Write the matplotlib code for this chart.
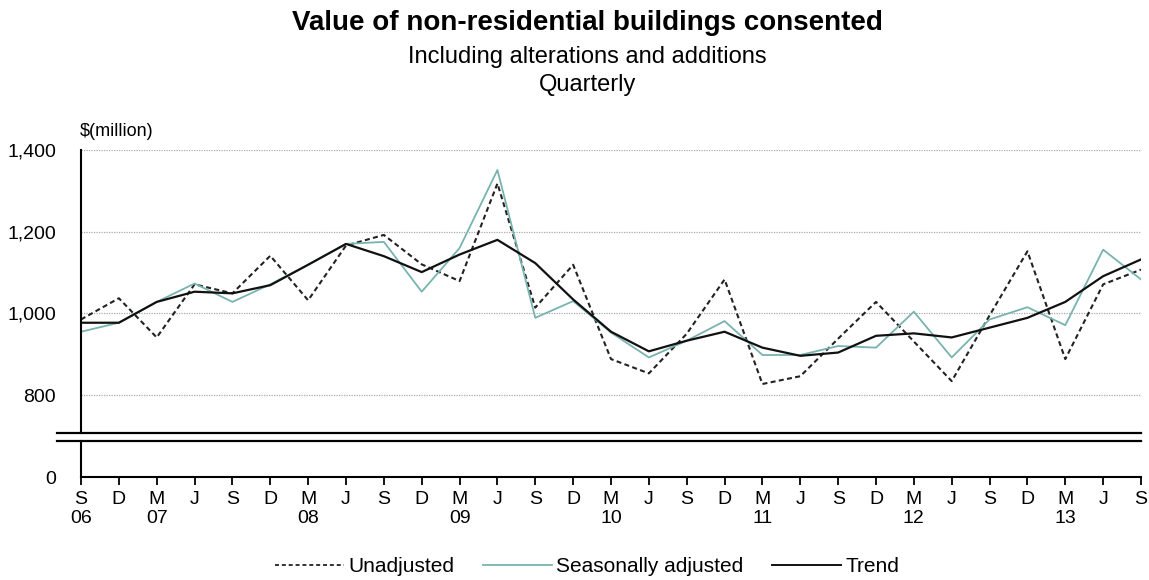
import matplotlib
matplotlib.use("Agg")
import matplotlib.pyplot as plt
from matplotlib.lines import Line2D

plt.rcParams['font.family'] = ['Liberation Sans', 'DejaVu Sans']

quarters = ["S", "D", "M", "J"] * 7 + ["S"]
years = {0: "06", 2: "07", 6: "08", 10: "09", 14: "10", 18: "11", 22: "12", 26: "13"}

unadjusted = [985, 1037, 941, 1071, 1049, 1141, 1032, 1166, 1192, 1120,
              1079, 1318, 1014, 1119, 888, 853, 950, 1083, 827, 846,
              938, 1028, 931, 834, 995, 1152, 888, 1071, 1107]
seasonal = [955, 977, 1028, 1073, 1028, 1071, 1119, 1170, 1175, 1053,
            1160, 1351, 989, 1030, 953, 892, 933, 981, 898, 898,
            920, 916, 1004, 892, 985, 1015, 971, 1156, 1083]
trend = [977, 977, 1028, 1053, 1049, 1069, 1119, 1170, 1140, 1101,
         1144, 1180, 1123, 1034, 955, 907, 933, 955, 916, 896,
         904, 945, 951, 941, 965, 989, 1028, 1091, 1132]
yticks_top = [800, 1000, 1200, 1400]

W, H = 1149, 580
fig = plt.figure(figsize=(W / 100, H / 100), dpi=100)

L, R = 81 / W, 1141 / W
ax = fig.add_axes([L, 1 - 433 / H, R - L, (433 - 150) / H])
ax2 = fig.add_axes([L, 1 - 477 / H, R - L, (477 - 441) / H])

x = list(range(len(quarters)))
teal = "#78b3af"
ax.plot(x, unadjusted, color="#222222", lw=1.5, ls=(0, (2.4, 1.6)))
ax.plot(x, seasonal, color=teal, lw=1.3)
ax.plot(x, trend, color="#111111", lw=1.6)

ax.set_xlim(0, 28)
ax.set_ylim(707, 1400)
ax.set_yticks(yticks_top)
ax.set_yticklabels([f"{v:,}" for v in yticks_top], fontsize=14)
for v in yticks_top:
    ax.axhline(v, color="#aaaaaa", lw=0.9, ls=(0, (1, 1)), zorder=0)
ax.tick_params(axis='y', length=0, pad=18)
ax.set_xticks([])
for s in ["top", "right", "bottom"]:
    ax.spines[s].set_visible(False)
ax.spines["left"].set_linewidth(1.5)

ax2.set_xlim(0, 28)
ax2.set_ylim(0, 88)
ax2.set_yticks([0])
ax2.set_yticklabels(["0"], fontsize=14)
ax2.tick_params(axis='y', length=0, pad=18)
for s in ["top", "right"]:
    ax2.spines[s].set_visible(False)
ax2.spines["left"].set_linewidth(1.5)
ax2.spines["bottom"].set_linewidth(1.5)
ax2.set_xticks(x)
labels = [q + ("\n" + years[i] if i in years else "") for i, q in enumerate(quarters)]
ax2.set_xticklabels(labels, fontsize=14, va="top", linespacing=1.2)
ax2.tick_params(axis='x', direction='out', length=6, width=1.3, pad=4)

# axis-break lines
for yy in (433, 441):
    fig.add_artist(Line2D([57 / W, R], [1 - yy / H, 1 - yy / H], color="black", lw=1.6))

fig.text(80 / W, 1 - 132 / H, "$(million)", fontsize=13, ha="left", va="center")

fig.text(0.511, 1 - 23 / H, "Value of non-residential buildings consented", fontsize=20,
         fontweight="bold", ha="center", va="center")
fig.text(0.511, 1 - 57 / H, "Including alterations and additions", fontsize=17,
         ha="center", va="center")
fig.text(0.511, 1 - 85 / H, "Quarterly", fontsize=17, ha="center", va="center")

handles = [
    Line2D([], [], color="#222222", lw=1.3, ls=(0, (2.2, 1.6))),
    Line2D([], [], color=teal, lw=1.3),
    Line2D([], [], color="#111111", lw=1.4),
]
fig.legend(handles, ["Unadjusted", "Seasonally adjusted", "Trend"], loc="center",
           bbox_to_anchor=(0.511, 1 - 567 / H), ncol=3, frameon=False, fontsize=15,
           handlelength=3.3, handletextpad=0.2, columnspacing=1.4)

fig.savefig("out.png", dpi=100)
